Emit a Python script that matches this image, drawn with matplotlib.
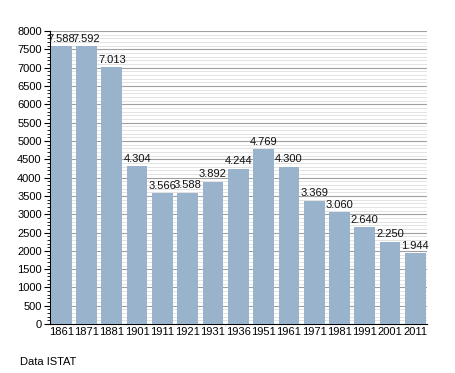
import numpy as np
import matplotlib.pyplot as plt
from matplotlib.ticker import MultipleLocator

plt.rcParams['font.family'] = ['Liberation Sans', 'DejaVu Sans']

# census years and population
years = ['1861', '1871', '1881', '1901', '1911', '1921', '1931', '1936',
         '1951', '1961', '1971', '1981', '1991', '2001', '2011']
population = [7588, 7592, 7013, 4304, 3566, 3588, 3892, 4244,
              4769, 4300, 3369, 3060, 2640, 2250, 1944]
labels = ['7.588', '7.592', '7.013', '4.304', '3.566', '3.588', '3.892', '4.244',
          '4.769', '4.300', '3.369', '3.060', '2.640', '2.250', '1.944']

fig = plt.figure(figsize=(4.55, 3.73), dpi=100)
ax = fig.add_axes([0.110, 0.131, 0.828, 0.786])

x = np.arange(len(years))
ax.bar(x, population, width=0.82, color='#9ab3cd', zorder=3)
for xi, v, lab in zip(x, population, labels):
    ax.text(xi, v + 60, lab, ha='center', va='bottom', fontsize=8, color='#111111', zorder=4)

ax.set_xlim(-0.44, len(years) - 0.55)
ax.set_ylim(0, 8000)
ax.yaxis.set_major_locator(MultipleLocator(500))
ax.yaxis.set_minor_locator(MultipleLocator(100))
ax.grid(which='major', axis='y', color='#a0a0a0', linewidth=0.8, zorder=1)
ax.grid(which='minor', axis='y', color='#dedede', linewidth=0.6, zorder=0)
ax.set_xticks(x)
ax.set_xticklabels(years)
ax.tick_params(axis='x', length=0, labelsize=8, pad=2)
ax.tick_params(axis='y', which='major', length=4, labelsize=8, pad=2)
ax.tick_params(axis='y', which='minor', length=2)
for s in ['top', 'right']:
    ax.spines[s].set_visible(False)
ax.spines['left'].set_linewidth(0.8)
ax.spines['bottom'].set_linewidth(0.8)

fig.text(20 / 455, 1 - 362 / 373, 'Data ISTAT', fontsize=8, va='center', ha='left')

fig.savefig('out.png', dpi=100)
